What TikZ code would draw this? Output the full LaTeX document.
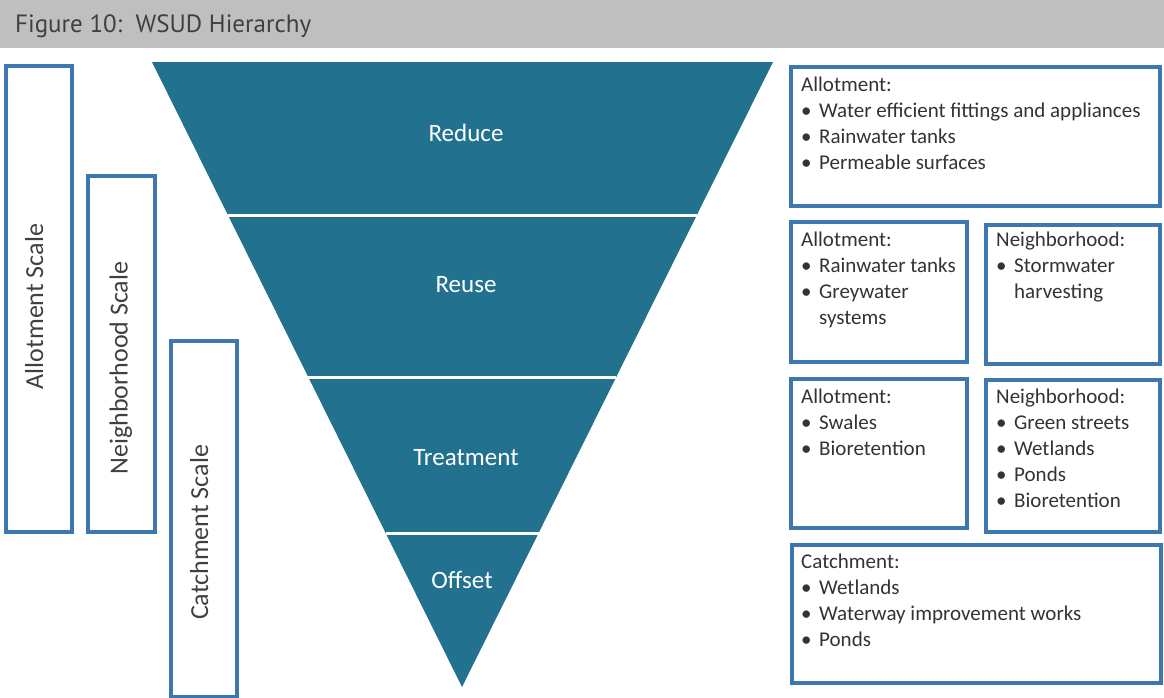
\documentclass[tikz,border=0pt]{standalone}
\usepackage{fontspec}
\setmainfont{Carlito}
\newfontfamily\titlefont{PT Sans}
\usetikzlibrary{calc}

\definecolor{wsudteal}{RGB}{34,113,143}
\definecolor{wsudblue}{RGB}{60,120,175}
\definecolor{titlegray}{RGB}{191,191,191}
\definecolor{inkgray}{RGB}{64,64,64}

\newcommand{\bul}[1]{\makebox[18pt][l]{•}#1}
\newcommand{\bulcont}[1]{\hspace*{18pt}#1}

\tikzset{
  scalebox/.style={draw=wsudblue, line width=4pt, anchor=north west, inner sep=0pt},
  listbox/.style={draw=wsudblue, line width=4pt, anchor=north west, inner sep=0pt},
  listtext/.style={anchor=north west, inner sep=0pt, align=left, text=black!80,
    font=\fontsize{21}{26}\selectfont},
  scaletext/.style={rotate=90, inner sep=0pt, text depth=0pt, text=inkgray,
    font=\fontsize{26}{30}\selectfont},
  tiertext/.style={inner sep=0pt, text depth=0pt, text=white,
    font=\fontsize{25}{30}\selectfont},
}

\begin{document}
\begin{tikzpicture}[x=1pt,y=-1pt]

  \useasboundingbox (0,0) rectangle (1164,697);

  \fill[titlegray] (0,0) rectangle (1164,48);
  \node[anchor=base west, inner sep=0pt, text=inkgray, font=\titlefont\fontsize{25}{30}\selectfont]
    (title) at (15,32) {Figure 10:\ \ WSUD Hierarchy};

  \node[scalebox, minimum width=66pt, minimum height=466pt] (allotbox) at (4,64) {};
  \node[scalebox, minimum width=67pt, minimum height=356pt] (neighbox) at (86,174) {};
  \node[scalebox, minimum width=66pt, minimum height=356pt] (catchbox) at (169,339) {};

  \node[scaletext] (allotlbl) at (34,306.5) {Allotment Scale};
  \node[scaletext] (neighlbl) at (118.5,368) {Neighborhood Scale};
  \node[scaletext] (catchlbl) at (199,532.5) {Catchment Scale};

  \coordinate (tl) at (152,62);
  \coordinate (tr) at (773,62);
  \coordinate (apex) at (462,687);
  \fill[wsudteal] (tl)--(tr)--(apex)--cycle;
  \foreach \t in {0.246,0.504,0.754}
    \draw[white,line width=3pt] ($(tl)!\t!(apex)$)--($(tr)!\t!(apex)$);

  \node[tiertext] (reduce) at (466,133) {Reduce};
  \node[tiertext] (reuse) at (466,284) {Reuse};
  \node[tiertext] (treat) at (466,457) {Treatment};
  \node[tiertext] (offset) at (462,580) {Offset};

  \node[listbox, minimum width=369pt, minimum height=139pt] (reducebox) at (789,65) {};
  \node[listbox, minimum width=176pt, minimum height=140pt] (reuseallot) at (789,220) {};
  \node[listbox, minimum width=174pt, minimum height=139pt] (reuseneigh) at (984,223) {};
  \node[listbox, minimum width=176pt, minimum height=149pt] (treatallot) at (789,377) {};
  \node[listbox, minimum width=174pt, minimum height=152pt] (treatneigh) at (984,378) {};
  \node[listbox, minimum width=369pt, minimum height=138pt] (offsetbox) at (790,543) {};

  \node[listtext] (reducetxt) at ([xshift=12pt,yshift=-12pt]reducebox.north west)
    {Allotment:\\ \bul{Water efficient fittings and appliances}\\ \bul{Rainwater tanks}\\ \bul{Permeable surfaces}};
  \node[listtext] (reuseallottxt) at ([xshift=12pt,yshift=-12pt]reuseallot.north west)
    {Allotment:\\ \bul{Rainwater tanks}\\ \bul{Greywater}\\ \bulcont{systems}};
  \node[listtext] (reuseneightxt) at ([xshift=12pt,yshift=-9pt]reuseneigh.north west)
    {Neighborhood:\\ \bul{Stormwater}\\ \bulcont{harvesting}};
  \node[listtext] (treatallottxt) at ([xshift=12pt,yshift=-12pt]treatallot.north west)
    {Allotment:\\ \bul{Swales}\\ \bul{Bioretention}};
  \node[listtext] (treatneightxt) at ([xshift=12pt,yshift=-11pt]treatneigh.north west)
    {Neighborhood:\\ \bul{Green streets}\\ \bul{Wetlands}\\ \bul{Ponds}\\ \bul{Bioretention}};
  \node[listtext] (offsettxt) at ([xshift=11pt,yshift=-11pt]offsetbox.north west)
    {Catchment:\\ \bul{Wetlands}\\ \bul{Waterway improvement works}\\ \bul{Ponds}};

\end{tikzpicture}
\end{document}
